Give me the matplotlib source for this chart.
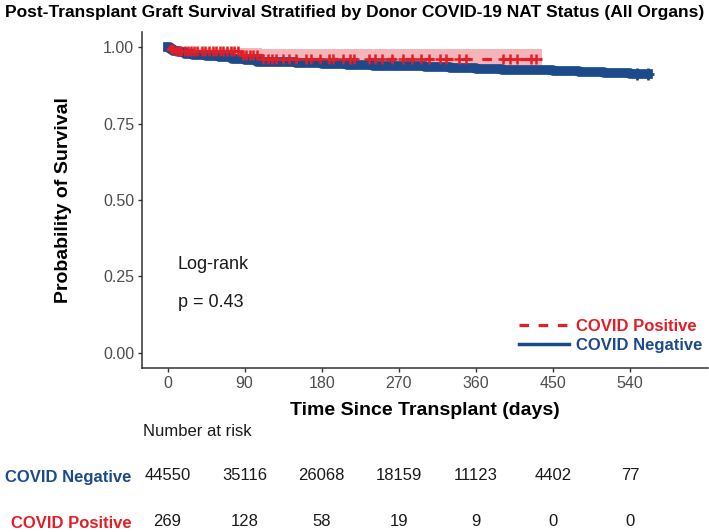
import numpy as np
import matplotlib
matplotlib.use("Agg")
import matplotlib.pyplot as plt
from matplotlib import font_manager
from matplotlib.lines import Line2D

title = "Post-Transplant Graft Survival Stratified by Donor COVID-19 NAT Status (All Organs)"

# COVID negative KM curve
neg_time = [0, 3, 7, 14, 21, 30, 45, 60, 75, 90, 105, 120, 150, 180, 210, 240,
            270, 300, 330, 360, 390, 420, 450, 480, 510, 540, 561]
neg_surv = [1.000, 0.993, 0.989, 0.984, 0.979, 0.976, 0.972, 0.967, 0.962, 0.957,
            0.953, 0.951, 0.947, 0.944, 0.941, 0.939, 0.937, 0.935, 0.933, 0.930,
            0.927, 0.924, 0.921, 0.918, 0.916, 0.914, 0.913]
neg_censor = [548, 561]

# COVID positive KM curve with confidence band
pos_time = [0, 2, 8, 86, 110, 437]
pos_surv = [1.000, 0.993, 0.988, 0.975, 0.963, 0.963]
pos_lower = [1.000, 0.982, 0.977, 0.952, 0.940, 0.940]
pos_upper = [1.000, 1.000, 0.998, 0.996, 0.995, 0.995]
pos_censor = [4, 6, 10, 13, 16, 20, 24, 27, 31, 35, 40, 44, 48, 53, 57, 61, 65,
              70, 74, 78, 82, 88, 92, 96, 100, 104, 112, 117, 122, 127, 135, 142,
              150, 162, 168, 178, 188, 193, 205, 213, 218, 235, 242, 250, 262,
              275, 285, 296, 305, 318, 325, 340, 348, 392, 400, 408, 424, 430]

# number at risk
risk_times = [0, 90, 180, 270, 360, 450, 540]
risk_negative = [44550, 35116, 26068, 18159, 11123, 4402, 77]
risk_positive = [269, 128, 58, 19, 9, 0, 0]

blue = '#1C4A8B'
red = '#E31E26'


def step_at(times, values, t):
    idx = np.searchsorted(times, t, side='right') - 1
    return np.asarray(values)[idx]


plt.rcParams['font.family'] = ['Liberation Sans', 'DejaVu Sans']
names = {f.name for f in font_manager.fontManager.ttflist}
title_family = 'Liberation Sans Narrow' if 'Liberation Sans Narrow' in names else 'Liberation Sans'

fig = plt.figure(figsize=(7.09, 5.32), dpi=100)
ax = fig.add_axes([0.2, 0.3083, 0.7987, 0.6316])

# negative curve (dense censor marks make it look like a thick band)
ax.step(neg_time, neg_surv, where='post', color=blue, lw=7)
ax.plot(neg_censor, step_at(neg_time, neg_surv, neg_censor), '+', color=blue,
        ms=8, mew=2)

# positive curve
ax.fill_between(pos_time, pos_lower, pos_upper, step='post', color=red, alpha=0.33, lw=0)
ax.step(pos_time, pos_surv, where='post', color=red, lw=2.3, ls=(0, (3, 3)))
ax.plot(pos_censor, step_at(pos_time, pos_surv, pos_censor), '+', color=red,
        ms=7.5, mew=1.8)

ax.set_xlim(-30, 631)
ax.set_ylim(-0.05, 1.05)
ax.set_xticks(risk_times)
ax.set_yticks([0, 0.25, 0.5, 0.75, 1.0])
ax.set_yticklabels(['0.00', '0.25', '0.50', '0.75', '1.00'])
ax.tick_params(labelsize=11.5, labelcolor='#4D4D4D', length=3, width=1, pad=2.5,
               color='#333333')
for s in ['top', 'right']:
    ax.spines[s].set_visible(False)
for s in ['left', 'bottom']:
    ax.spines[s].set_color('#333333')
    ax.spines[s].set_linewidth(1.1)

ax.set_xlabel('Time Since Transplant (days)', fontsize=14, fontweight='bold', labelpad=8)
ax.set_ylabel('Probability of Survival', fontsize=14, fontweight='bold', labelpad=22)

ax.text(12, 0.29, 'Log-rank', fontsize=13, va='center', color='#1A1A1A')
ax.text(12, 0.165, 'p = 0.43', fontsize=13, va='center', color='#1A1A1A')

handles = [Line2D([], [], color=red, lw=2.3, ls=(0, (3, 3))),
           Line2D([], [], color=blue, lw=2.5)]
ax.legend(handles, ['COVID Positive', 'COVID Negative'], loc='lower right',
          bbox_to_anchor=(0.99, 0.045), frameon=False, borderpad=0, borderaxespad=0,
          labelspacing=0.25, handlelength=3.0, handletextpad=0.45,
          prop={'weight': 'bold', 'size': 12}, labelcolor=[red, blue])

# title
t = fig.text(5 / 709, 1 - 12 / 532, title, fontweight='bold', fontsize=12,
             family=title_family, ha='left', va='center')
fig.canvas.draw()
w = t.get_window_extent().width
t.set_fontsize(12 * 693 / w)

# risk table
fig.text(143 / 709, 1 - 432 / 532, 'Number at risk', fontsize=12, va='center',
         ha='left', color='#1A1A1A')
ax2 = fig.add_axes([0.2, 0.0, 0.7987, 100 / 532])
ax2.set_xlim(ax.get_xlim())
ax2.set_ylim(0, 1)
row_y = [0.56, 0.10]
for t_, n in zip(risk_times, risk_negative):
    ax2.text(t_, row_y[0], str(n), ha='center', va='center', fontsize=12, color='#1A1A1A')
for t_, n in zip(risk_times, risk_positive):
    ax2.text(t_, row_y[1], str(n), ha='center', va='center', fontsize=12, color='#1A1A1A')
ax2.set_xticks([])
ax2.set_yticks(row_y)
ax2.set_yticklabels(['COVID Negative', 'COVID Positive'], fontsize=12, fontweight='bold')
for lab, c in zip(ax2.get_yticklabels(), [blue, red]):
    lab.set_color(c)
ax2.tick_params(axis='y', length=0, pad=7.5)
for s in ax2.spines.values():
    s.set_visible(False)
ax2.patch.set_alpha(0)

fig.savefig('out.png', dpi=100)
